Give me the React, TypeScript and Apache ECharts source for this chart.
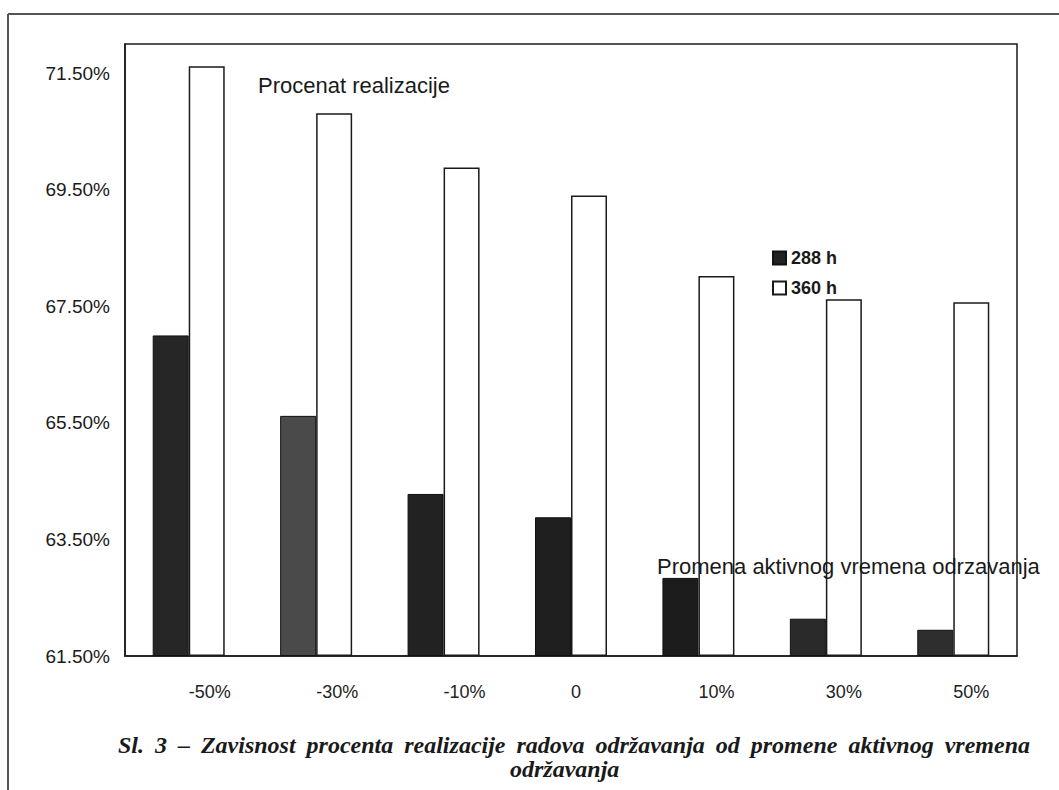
import React, { useEffect, useRef } from "react";
import * as echarts from "echarts";

const categories = ["-50%", "-30%", "-10%", "0", "10%", "30%", "50%"];
const series288 = [67.0, 65.62, 64.28, 63.88, 62.84, 62.14, 61.95];
const series360 = [71.62, 70.81, 69.88, 69.4, 68.02, 67.62, 67.57];
const darkColors = ["#262626", "#4a4a4a", "#222222", "#1f1f1f", "#1c1c1c", "#2a2a2a", "#2e2e2e"];
const yBase = 61.5;
const yTop = 72.0;
const yStep = 2;
const seriesNames = ["288 h", "360 h"];
const captionLine1 = "Sl. 3 – Zavisnost procenta realizacije radova održavanja od promene aktivnog vremena";
const captionLine2 = "održavanja";
const titleText = "Procenat realizacije";
const xTitleText = "Promena aktivnog vremena odrzavanja";

const CAPTION_FONT = 'italic bold 24px "Liberation Serif"';

function justifiedWords(text: string, left: number, right: number, y: number) {
  const words = text.split(" ");
  const canvas = document.createElement("canvas");
  const ctx = canvas.getContext("2d")!;
  ctx.font = CAPTION_FONT;
  const widths = words.map((w) => ctx.measureText(w).width);
  const total = widths.reduce((a, b) => a + b, 0);
  const gap = (right - left - total) / (words.length - 1);
  let x = left;
  return words.map((w, i) => {
    const el = {
      type: "text",
      left: x,
      top: y,
      z: 100,
      style: {
        text: w,
        font: CAPTION_FONT,
        fill: "#1a1a1a",
      },
    };
    x += widths[i] + gap;
    return el;
  });
}

export default function App() {
  const ref = useRef<HTMLDivElement>(null);
  useEffect(() => {
    if (!ref.current) return;
    const chart = echarts.init(ref.current, null, { renderer: "svg" });
    const option = {
      animation: false,
      backgroundColor: "#ffffff",
      grid: {
        left: 125,
        top: 44,
        right: 42,
        bottom: 134,
        show: true,
        borderColor: "#1a1a1a",
        borderWidth: 1.5,
        backgroundColor: "transparent",
      },
      legend: {
        orient: "vertical",
        left: 772,
        top: 249,
        padding: 0,
        itemWidth: 13,
        itemHeight: 13,
        itemGap: 12,
        icon: "rect",
        data: seriesNames,
        textStyle: {
          fontFamily: "Liberation Sans",
          fontSize: 18,
          fontWeight: "bold",
          color: "#1a1a1a",
          padding: [0, 0, 0, 0],
        },
      },
      xAxis: {
        type: "category",
        data: categories,
        boundaryGap: true,
        axisLine: { show: true, lineStyle: { color: "#1a1a1a", width: 1.5 } },
        axisTick: { show: false },
        axisLabel: {
          align: "left",
          margin: 27,
          fontFamily: "Liberation Sans",
          fontSize: 18,
          color: "#222",
        },
      },
      yAxis: {
        type: "value",
        min: 0,
        max: yTop - yBase,
        interval: yStep,
        axisLine: { show: true, lineStyle: { color: "#1a1a1a", width: 1.5 } },
        axisTick: { show: false },
        splitLine: { show: false },
        axisLabel: {
          showMaxLabel: false,
          margin: 15,
          fontFamily: "Liberation Sans",
          fontSize: 19,
          color: "#1a1a1a",
          formatter: (v: number) => (v + yBase).toFixed(2) + "%",
        },
      },
      series: [
        {
          name: seriesNames[0],
          type: "bar",
          barWidth: 36,
          barGap: "0%",
          itemStyle: { color: "#222", borderColor: "#111", borderWidth: 1 },
          data: series288.map((v, i) => ({
            value: +(v - yBase).toFixed(4),
            itemStyle: { color: darkColors[i] },
          })),
        },
        {
          name: seriesNames[1],
          type: "bar",
          barWidth: 36,
          barGap: "0%",
          itemStyle: { color: "#ffffff", borderColor: "#1a1a1a", borderWidth: 1.5 },
          data: series360.map((v) => +(v - yBase).toFixed(4)),
        },
      ],
      graphic: [
        {
          type: "line",
          shape: { x1: 8, y1: 14, x2: 1059, y2: 14 },
          style: { stroke: "#555", lineWidth: 2 },
        },
        {
          type: "line",
          shape: { x1: 8, y1: 14, x2: 8, y2: 790 },
          style: { stroke: "#555", lineWidth: 2 },
        },
        {
          type: "text",
          left: 258,
          top: 74,
          z: 100,
          style: {
            text: titleText,
            font: '22px "Liberation Sans"',
            fill: "#1a1a1a",
          },
        },
        {
          type: "text",
          left: 657,
          top: 555,
          z: 100,
          style: {
            text: xTitleText,
            font: '22px "Liberation Sans"',
            fill: "#1a1a1a",
          },
        },
        ...justifiedWords(captionLine1, 118, 1030, 733),
        {
          type: "text",
          left: 510,
          top: 757,
          z: 100,
          style: {
            text: captionLine2,
            font: CAPTION_FONT,
            fill: "#1a1a1a",
          },
        },
      ],
    };
    chart.setOption(option as any);
    return () => chart.dispose();
  }, []);
  return (
    <div
      ref={ref}
      style={{ position: "fixed", left: 0, top: 0, width: 1059, height: 790, background: "#fff" }}
    />
  );
}
